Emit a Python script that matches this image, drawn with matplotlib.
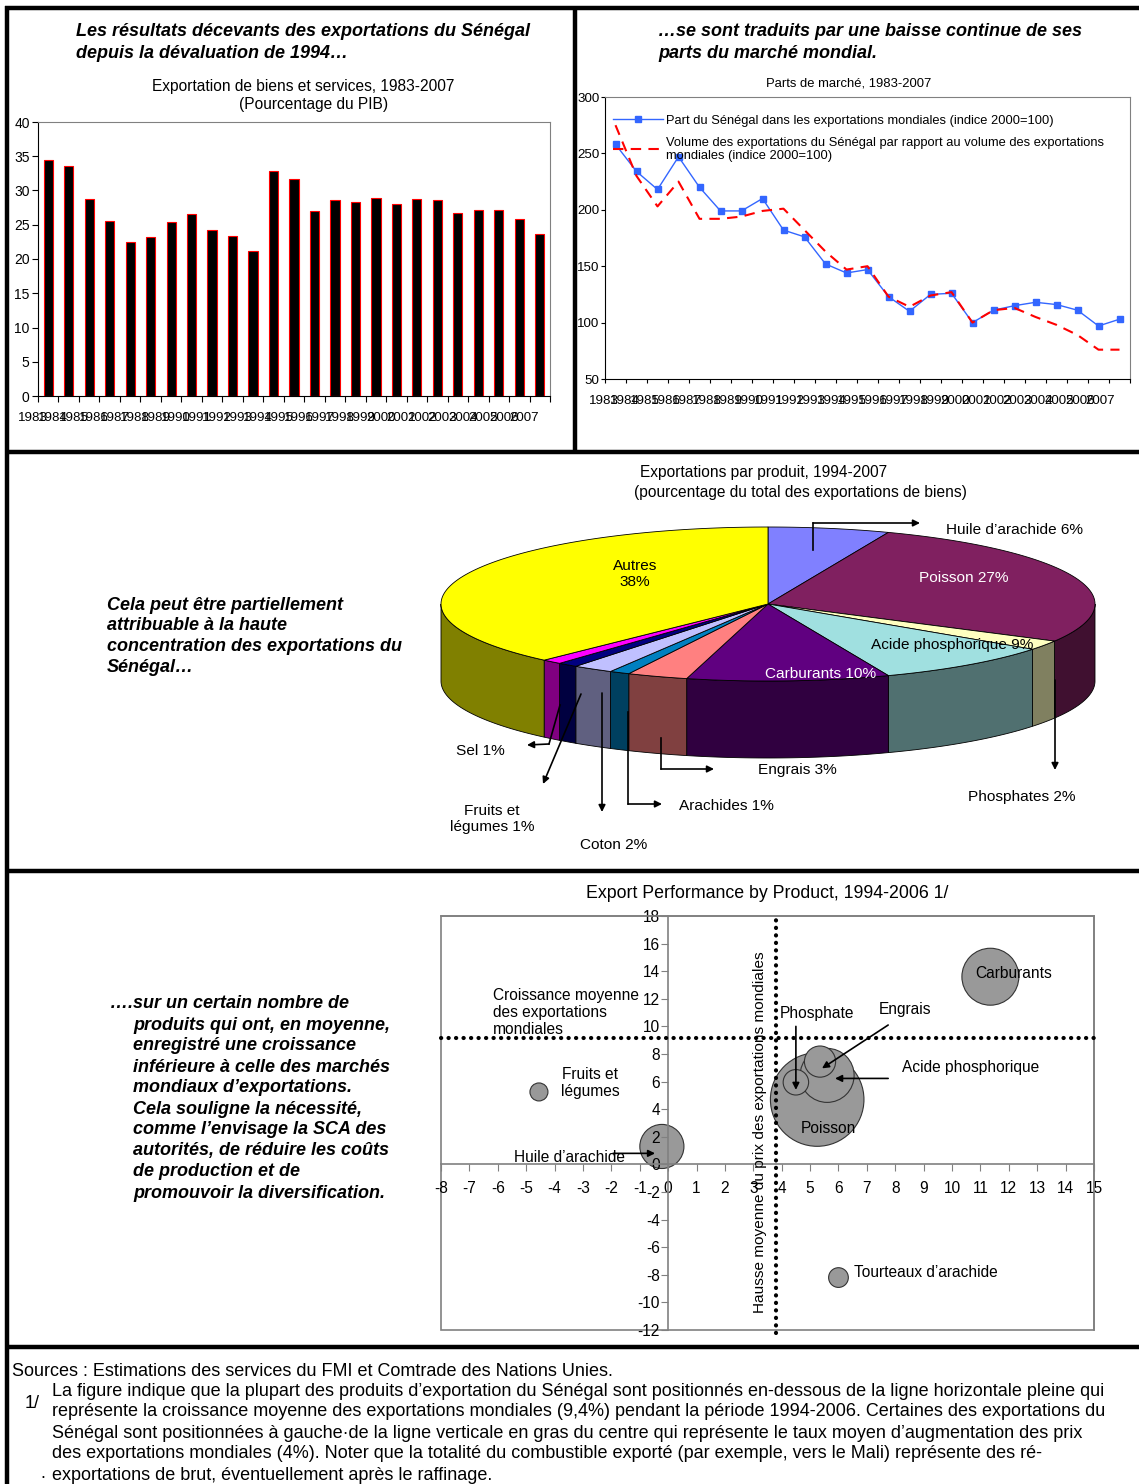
import numpy as np
import matplotlib
matplotlib.use("Agg")
import matplotlib.pyplot as plt
from matplotlib.patches import Polygon, Rectangle

plt.rcParams['font.family'] = ['Liberation Sans', 'DejaVu Sans']
plt.rcParams['axes.unicode_minus'] = False

W, H = 1139, 1484

# ---- data -------------------------------------------------------------
years = [str(y) for y in range(1983, 2008)]
exports_pib = [34.4, 33.6, 28.7, 25.6, 22.5, 23.2, 25.4, 26.5, 24.2, 23.4, 21.2, 32.8, 31.7,
               27.0, 28.6, 28.3, 28.9, 28.0, 28.8, 28.6, 26.7, 27.2, 27.1, 25.9, 23.6]

part_senegal = [258, 234, 218, 247, 220, 199, 199, 210, 182, 176, 152, 144, 147,
                123, 110, 125, 126, 100, 111, 115, 118, 116, 111, 97, 103]
volume_rel = [275, 230, 203, 225, 192, 192, 194, 199, 201, 182, 163, 147, 150,
              123, 114, 124, 127, 100, 111, 113, 105, 98, 89, 76, 76]

pie_names = ['Huile d’arachide', 'Poisson', 'Phosphates', 'Acide phosphorique', 'Carburants',
             'Engrais', 'Arachides', 'Coton', 'Fruits et légumes', 'Sel', 'Autres']
pie_shares = [6, 27, 2, 9, 10, 3, 1, 2, 1, 1, 38]
pie_colors = ['#8080FF', '#802060', '#FFFFC0', '#A0E0E0', '#600080', '#FF8080',
              '#0080C0', '#C0C0FF', '#000080', '#FF00FF', '#FFFF00']

bub_names = ['Carburants', 'Poisson', 'Acide phosphorique', 'Engrais', 'Phosphate',
             'Fruits et légumes', 'Huile d’arachide', 'Tourteaux d’arachide']
bub_price = [11.35, 5.25, 5.6, 5.35, 4.5, -4.55, -0.22, 6.0]
bub_volume = [13.6, 4.7, 6.45, 7.45, 5.95, 5.25, 1.3, -8.2]
bub_share = [10, 27, 9, 3, 2, 1, 6, 1.2]
world_volume_growth = 9.15
world_price_growth = 3.8


def px_rect(l, t, r, b):
    return [l / W, 1 - b / H, (r - l) / W, (b - t) / H]


fig = plt.figure(figsize=(W / 100, H / 100), dpi=100)

# overlay in pixel coordinates for frames, free text and the 3D pie
ov = fig.add_axes([0, 0, 1, 1], zorder=0)
ov.set_xlim(0, W)
ov.set_ylim(H, 0)
ov.axis('off')

# frames
fk = dict(color='black', lw=3.2, solid_capstyle='butt')
ov.plot([7, 7], [6, H], **fk)
ov.plot([5, W], [8, 8], **fk)
ov.plot([575, 575], [8, 452], **fk)
for yy in (452, 871, 1347):
    ov.plot([5, W], [yy, yy], **fk)

# ---- titles of top row ---------------------------------------------------
bi = dict(fontsize=13, fontweight='bold', fontstyle='italic', va='center', ha='left')
ov.text(76, 32, 'Les résultats décevants des exportations du Sénégal', **bi)
ov.text(76, 54, 'depuis la dévaluation de 1994…', **bi)
ov.text(658, 32, '…se sont traduits par une baisse continue de ses', **bi)
ov.text(658, 54, 'parts du marché mondial.', **bi)
ov.text(303, 87, 'Exportation de biens et services, 1983-2007', fontsize=11.2, ha='center', va='center')
ov.text(314, 105, '(Pourcentage du PIB)', fontsize=11.2, ha='center', va='center')
ov.text(849, 83, 'Parts de marché, 1983-2007', fontsize=9.4, ha='center', va='center')

# ---- bar chart ---------------------------------------------------------------
ax1 = fig.add_axes(px_rect(38, 122, 550, 396))
x = np.arange(len(years))
ax1.bar(x, exports_pib, width=0.45, color='black', edgecolor='red', linewidth=0.8)
ax1.set_xlim(-0.5, len(years) - 0.5)
ax1.set_ylim(0, 40)
ax1.set_yticks(range(0, 41, 5))
ax1.set_xticks(np.arange(-0.5, len(years), 1))
ax1.set_xticklabels([])
ax1.tick_params(axis='both', direction='out', length=4, labelsize=10, width=0.8)
ax1.tick_params(axis='y', pad=2)
for i, lab in enumerate(years):
    ax1.text(i - 0.75, -0.08, lab, transform=ax1.get_xaxis_transform(), ha='center',
             va='center', fontsize=9.6)
ax1.spines['top'].set_color('#808080')
ax1.spines['right'].set_color('#808080')

# ---- line chart ------------------------------------------------------------
ax2 = fig.add_axes(px_rect(605, 97, 1130, 379))
ax2.plot(x, part_senegal, color='#3366FF', lw=1, marker='s', markersize=4,
         label='Part du Sénégal dans les exportations mondiales (indice 2000=100)')
ax2.plot(x, volume_rel, color='#FF0000', lw=1.5, dashes=(5, 3.5),
         label='Volume des exportations du Sénégal par rapport au volume des exportations\nmondiales (indice 2000=100)')
ax2.set_xlim(-0.5, len(years) - 0.5)
ax2.set_ylim(50, 300)
ax2.set_yticks(range(50, 301, 50))
ax2.set_xticks(np.arange(-0.5, len(years), 1))
ax2.set_xticklabels([])
ax2.tick_params(axis='both', direction='out', length=3, labelsize=9.6, width=0.8)
ax2.tick_params(axis='y', pad=1)
for i, lab in enumerate(years):
    ax2.text(i * 0.985 - 0.55, -0.078, lab, transform=ax2.get_xaxis_transform(), ha='center',
             va='center', fontsize=9.6)
ax2.spines['top'].set_color('#808080')
ax2.spines['right'].set_color('#808080')
ax2.legend(loc='upper left', bbox_to_anchor=(0.005, 0.955), frameon=False, fontsize=9.3,
           handlelength=3.9, handletextpad=0.2, borderaxespad=0, labelspacing=0.75)

# ---- 3D pie --------------------------------------------------------------------
ov.text(764, 473, 'Exportations par produit, 1994-2007', fontsize=11.2, ha='center', va='center')
ov.text(800, 493, '(pourcentage du total des exportations de biens)', fontsize=11.2,
        ha='center', va='center')
for k, line in enumerate(['Cela peut être partiellement', 'attribuable à la haute',
                          'concentration des exportations du', 'Sénégal…']):
    ov.text(107, 605 + k * 20.7, line, **bi)

cx, cy, rx, ry, depth = 768, 604, 327, 77, 77
bounds = 90 - np.concatenate([[0], np.cumsum(pie_shares)]) * 3.6


def shade(c):
    r, g, b = matplotlib.colors.to_rgb(c)
    return (r * 0.5, g * 0.5, b * 0.5)


for i, c in enumerate(pie_colors):
    a0, a1 = bounds[i], bounds[i + 1]
    lo, hi = max(a1, -180), min(a0, 0)
    if hi > lo:
        t = np.radians(np.linspace(lo, hi, 80))
        xs = cx + rx * np.cos(t)
        ys = cy - ry * np.sin(t)
        pts = np.column_stack([np.concatenate([xs, xs[::-1]]),
                               np.concatenate([ys, ys[::-1] + depth])])
        ov.add_patch(Polygon(pts, closed=True, fc=shade(c), ec='black', lw=0.6))
for i, c in enumerate(pie_colors):
    a0, a1 = bounds[i], bounds[i + 1]
    t = np.radians(np.linspace(a0, a1, 120))
    pts = np.column_stack([np.concatenate([[cx], cx + rx * np.cos(t)]),
                           np.concatenate([[cy], cy - ry * np.sin(t)])])
    ov.add_patch(Polygon(pts, closed=True, fc=c, ec='black', lw=0.6))

pl = dict(fontsize=11.1, va='center')
ov.text(635, 574, 'Autres\n38%', ha='center', linespacing=1.2, **pl)
ov.text(964, 578, 'Poisson 27%', ha='center', color='white', **pl)
ov.text(952, 645, 'Acide phosphorique 9%', ha='center', **pl)
ov.text(821, 674, 'Carburants 10%', ha='center', color='white', **pl)
ov.text(946, 530, 'Huile d’arachide 6%', ha='left', **pl)
ov.text(480, 751, 'Sel 1%', ha='center', **pl)
ov.text(492, 819, 'Fruits et\nlégumes 1%', ha='center', linespacing=1.2, **pl)
ov.text(614, 845, 'Coton 2%', ha='center', **pl)
ov.text(679, 806, 'Arachides 1%', ha='left', **pl)
ov.text(758, 770, 'Engrais 3%', ha='left', **pl)
ov.text(968, 797, 'Phosphates 2%', ha='left', **pl)

arw = dict(arrowstyle='-|>', color='black', lw=1.2, mutation_scale=10, shrinkA=0, shrinkB=0)


def arrow(ax, pts):
    for (x0, y0), (x1, y1) in zip(pts[:-2], pts[1:-1]):
        ax.plot([x0, x1], [y0, y1], color='black', lw=1.2)
    ax.annotate('', xy=pts[-1], xytext=pts[-2], arrowprops=arw)


arrow(ov, [(813, 550), (813, 523), (920, 523)])
arrow(ov, [(560, 705), (549, 744), (527, 745)])
arrow(ov, [(581, 694), (543, 784)])
arrow(ov, [(602, 693), (602, 812)])
arrow(ov, [(628, 712), (628, 804), (662, 804)])
arrow(ov, [(661, 738), (661, 769), (714, 769)])
arrow(ov, [(1055, 680), (1055, 770)])

# ---- bubble chart ------------------------------------------------------------
ov.text(767, 894, 'Export Performance by Product, 1994-2006 1/', fontsize=12.8,
        ha='center', va='center')
lines = ['….sur un certain nombre de', 'produits qui ont, en moyenne,', 'enregistré une croissance',
         'inférieure à celle des marchés', 'mondiaux d’exportations.', 'Cela souligne la nécessité,',
         'comme l’envisage la SCA des', 'autorités, de réduire les coûts', 'de production et de',
         'promouvoir la diversification.']
for k, line in enumerate(lines):
    ov.text(110 if k == 0 else 133, 1004 + k * 21, line, **bi)

ax3 = fig.add_axes(px_rect(441, 916, 1094, 1330))
ax3.set_xlim(-8, 15)
ax3.set_ylim(-12, 18)
ax3.scatter(bub_price, bub_volume, s=[168 * v for v in bub_share], c='#999999',
            edgecolors='#333333', linewidths=0.8, zorder=1)
ax3.spines['left'].set_position(('data', 0))
ax3.spines['bottom'].set_position(('data', 0))
for sp in ax3.spines.values():
    sp.set_color('#808080')
    sp.set_linewidth(1.2)
ax3.add_patch(Rectangle((0, 0), 1, 1, transform=ax3.transAxes, fill=False,
                        ec='#808080', lw=1.2, clip_on=False))
ax3.set_xticks(range(-8, 16))
ax3.set_yticks(range(-12, 19, 2))
ax3.tick_params(axis='both', direction='out', length=5, labelsize=11.2, color='#808080')
ax3.tick_params(axis='x', pad=7)
ax3.tick_params(axis='y', pad=1)
dot = dict(color='black', lw=3, ls=(0, (0.05, 1.75)), dash_capstyle='round', zorder=4,
           clip_on=False)
ax3.plot([-8, 15], [world_volume_growth] * 2, **dot)
ax3.plot([world_price_growth] * 2, [-12.2, 18.2], **dot)

bl = dict(fontsize=11.2, va='center', zorder=5)
ax3.text(12.18, 13.84, 'Carburants', ha='center', **bl)
ax3.text(5.25, 10.9, 'Phosphate', ha='center', **bl)
ax3.text(8.35, 11.2, 'Engrais', ha='center', **bl)
ax3.text(8.24, 7.0, 'Acide phosphorique', ha='left', **bl)
ax3.text(5.63, 2.6, 'Poisson', ha='center', **bl)
ax3.text(-2.75, 5.9, 'Fruits et\nlégumes', ha='center', linespacing=1.2, **bl)
ax3.text(-3.49, 0.5, 'Huile d’arachide', ha='center', **bl)
ax3.text(6.55, -7.8, 'Tourteaux d’arachide', ha='left', **bl)
ax3.text(-6.16, 11.0, 'Croissance moyenne\ndes exportations\nmondiales', ha='left',
         linespacing=1.15, fontsize=11.2, va='center')
ax3.text(3.24, 2.3, 'Hausse moyenne du prix des exportations mondiales', rotation=90,
         ha='center', va='center', fontsize=11.1)

arrow(ax3, [(4.5, 10.0), (4.5, 5.4)])
arrow(ax3, [(7.75, 10.1), (5.42, 6.96)])
arrow(ax3, [(7.75, 6.23), (5.88, 6.23)])
arrow(ax3, [(-1.94, 0.8), (-0.46, 0.8)])

# ---- footnotes -----------------------------------------------------------------
ft = dict(fontsize=13, ha='left', va='center')
ov.text(12, 1371, 'Sources : Estimations des services du FMI et Comtrade des Nations Unies.', **ft)
ov.text(25, 1403, '1/', **ft)
ov.text(40, 1474, '.', **ft)
notes = ['La figure indique que la plupart des produits d’exportation du Sénégal sont positionnés en-dessous de la ligne horizontale pleine qui',
         'représente la croissance moyenne des exportations mondiales (9,4%) pendant la période 1994-2006. Certaines des exportations du',
         'Sénégal sont positionnées à gauche·de la ligne verticale en gras du centre qui représente le taux moyen d’augmentation des prix',
         'des exportations mondiales (4%). Noter que la totalité du combustible exporté (par exemple, vers le Mali) représente des ré-',
         'exportations de brut, éventuellement après le raffinage.']
for k, line in enumerate(notes):
    ov.text(52, 1391 + k * 21, line, **ft)

fig.savefig('out.png', dpi=100)
